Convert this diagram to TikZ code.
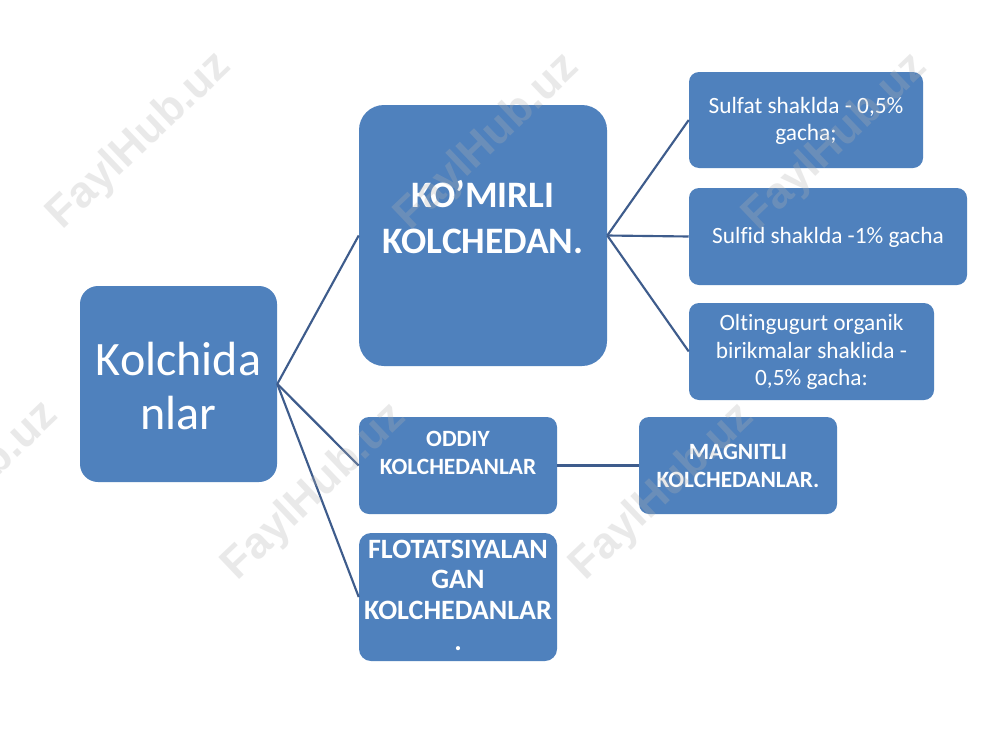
\documentclass[tikz,border=0pt]{standalone}
\usepackage{fontspec}
\setmainfont{Carlito}[Ligatures=NoCommon]
\newfontfamily\wmfont{Liberation Sans}
\definecolor{boxblue}{RGB}{79,129,189}
\definecolor{linkblue}{RGB}{62,92,140}
\begin{document}
\begin{tikzpicture}[x=0.75pt,y=-0.75pt,
  box/.style={fill=boxblue, draw=none, inner sep=0pt},
  txt/.style={text=white, align=center, inner sep=0pt},
  small/.style={txt, font=\fontsize{17.5}{20.5}\selectfont},
  smallb/.style={txt, font=\bfseries\fontsize{17.5}{21}\selectfont},
  link/.style={draw=linkblue, line width=1.6pt},
  wm/.style={font=\wmfont\bfseries\fontsize{33}{33}\selectfont, text=black!30, text opacity=0.28, rotate=43.6, inner sep=0pt}]
\useasboundingbox (0,0) rectangle (1000,750);
\fill[white] (0,0) rectangle (1000,750);

% boxes
\node[box, minimum width=147.75pt, minimum height=147pt, rounded corners=13.5pt] (kol) at (178.5,384) {};
\node[box, minimum width=186pt, minimum height=195.75pt, rounded corners=18.75pt] (kom) at (483,235.5) {};
\node[box, minimum width=175.5pt, minimum height=72pt, rounded corners=7.5pt] (sulfat) at (806,120) {};
\node[box, minimum width=208.5pt, minimum height=72.75pt, rounded corners=7.5pt] (sulfid) at (828,236.5) {};
\node[box, minimum width=183.75pt, minimum height=72.75pt, rounded corners=7.5pt] (olt) at (811.5,351.5) {};
\node[box, minimum width=148.5pt, minimum height=72.75pt, rounded corners=7.5pt] (odd) at (458,465.5) {};
\node[box, minimum width=148.5pt, minimum height=72.75pt, rounded corners=7.5pt] (mag) at (738,465.5) {};
\node[box, minimum width=148.5pt, minimum height=96pt, rounded corners=9pt] (flo) at (458,597) {};

% texts
\node[txt, font=\fontsize{36}{41}\selectfont] (kolT) at (178.5,386) {Kolchida\\nlar};
\node[txt, font=\bfseries\fontsize{28}{35}\selectfont] (komT) at (483,217) {KO’MIRLI\\KOLCHEDAN.};
\node[small] (sulfatT) at (806,121) {Sulfat shaklda - 0,5\%\\gacha;};
\node[small] (sulfidT) at (828,237) {Sulfid shaklda -1\% gacha};
\node[small] (oltT) at (811.5,352) {Oltingugurt organik\\birikmalar shaklida -\\0,5\% gacha:};
\node[smallb] (oddT) at (458,453) {ODDIY\\KOLCHEDANLAR};
\node[smallb] (magT) at (738,466) {MAGNITLI\\KOLCHEDANLAR.};
\node[txt, font=\bfseries\fontsize{21}{23}\selectfont] (floT) at (458,595) {FLOTATSIYALAN\\GAN\\KOLCHEDANLAR\\.};

% connectors
\draw[link] (kol.east) -- (kom.west);
\draw[link] (kol.east) -- (odd.west);
\draw[link] (kol.east) -- (flo.west);
\draw[link] (kom.east) -- (sulfat.west);
\draw[link] (kom.east) -- (sulfid.west);
\draw[link] (kom.east) -- (olt.west);
\draw[link] (odd.east) -- (mag.west);

% watermarks
\node[wm] (w1) at (140,141) {FaylHub.uz};
\node[wm] (w2) at (488,142) {FaylHub.uz};
\node[wm] (w3) at (836,142) {FaylHub.uz};
\node[wm] (w4) at (-33,490) {FaylHub.uz};
\node[wm] (w5) at (315,492) {FaylHub.uz};
\node[wm] (w6) at (663,492) {FaylHub.uz};
\end{tikzpicture}
\end{document}
